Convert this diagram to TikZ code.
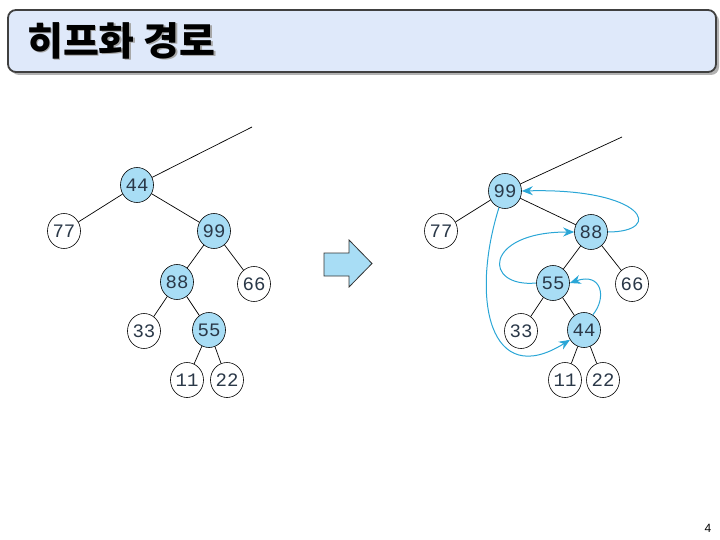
\documentclass[tikz,border=0pt]{standalone}
\usepackage{fontspec}
\setmainfont{Liberation Sans}
\newfontfamily\krfont{Noto Sans CJK KR}
\newfontfamily\monofont{Liberation Mono}
\usetikzlibrary{arrows.meta,shapes.geometric}
\definecolor{nodeblue}{HTML}{A8DDF5}
\definecolor{titlefill}{HTML}{DFE9FA}
\definecolor{pathblue}{HTML}{2AA6D6}
\definecolor{txtgray}{HTML}{2A3848}
\tikzset{
  keynode/.style={ellipse,draw=black,line width=0.6pt,minimum width=33pt,minimum height=35pt,inner sep=0pt,
    font=\monofont\fontsize{19}{19}\selectfont,text=txtgray},
  hot/.style={keynode,fill=nodeblue},
  cold/.style={keynode,fill=white},
  edge/.style={draw=black,line width=0.7pt},
  heappath/.style={draw=pathblue,line width=1pt,-{Stealth[length=11pt,width=9pt]}},
  titlefont/.style={font=\krfont\bfseries\fontsize{39}{39}\selectfont},
}
\begin{document}
\begin{tikzpicture}[x=1pt,y=-1pt]
\useasboundingbox (0,0) rectangle (720,540);
% title
\fill[gray!60,rounded corners=8pt] (11,13) rectangle (719,75);
\draw[draw=black!75,fill=titlefill,line width=1.8pt,rounded corners=8pt] (8,10) rectangle (716,72);
\node[anchor=west,text=gray!70,titlefont,inner sep=0pt] at (28.5,42) {히프화 경로};
\node (title) [anchor=west,text=black,titlefont,inner sep=0pt] at (27,40.5) {히프화 경로};
% left tree
\node[hot]  (L44) at (137,185) {44};
\node[cold] (L77) at (64,231) {77};
\node[hot]  (L99) at (214,231) {99};
\node[hot]  (L88) at (177,282) {88};
\node[cold] (L66) at (254,284) {66};
\node[cold] (L33) at (144,331) {33};
\node[hot]  (L55) at (209,330) {55};
\node[cold] (L11) at (187,380) {11};
\node[cold] (L22) at (227,380) {22};
\coordinate (Ltop) at (252,127);
\draw[edge] (L44) -- (Ltop);
\draw[edge] (L44) -- (L77);
\draw[edge] (L44) -- (L99);
\draw[edge] (L99) -- (L88);
\draw[edge] (L99) -- (L66);
\draw[edge] (L88) -- (L33);
\draw[edge] (L88) -- (L55);
\draw[edge] (L55) -- (L11);
\draw[edge] (L55) -- (L22);
% block arrow
\draw[draw=black!80,fill=nodeblue,line width=0.8pt,line join=miter]
  (324,253) -- (349,253) -- (349,240) -- (372,263.5) -- (349,287) -- (349,276) -- (324,276) -- cycle;
% right tree
\node[hot]  (R99) at (505,191) {99};
\node[cold] (R77) at (441,231) {77};
\node[hot]  (R88) at (591,232) {88};
\node[hot]  (R55) at (553,283) {55};
\node[cold] (R66) at (632,284) {66};
\node[cold] (R33) at (521,331) {33};
\node[hot]  (R44) at (584,330) {44};
\node[cold] (R11) at (565,380) {11};
\node[cold] (R22) at (603,380) {22};
\coordinate (Rtop) at (622,137);
\draw[edge] (R99) -- (Rtop);
\draw[edge] (R99) -- (R77);
\draw[edge] (R99) -- (R88);
\draw[edge] (R88) -- (R55);
\draw[edge] (R88) -- (R66);
\draw[edge] (R55) -- (R33);
\draw[edge] (R55) -- (R44);
\draw[edge] (R44) -- (R11);
\draw[edge] (R44) -- (R22);
% heapify paths
\draw[heappath] (R88.east) .. controls (665,232) and (645,188) .. (R99.east);
\draw[heappath] (R55.west) .. controls (483,288) and (483,232) .. (R88.west);
\draw[heappath] (R44.60) .. controls (607,298) and (602,272) .. (R55.east);
\draw[heappath] (R99.250) .. controls (470,300) and (490,390) .. (R44.215);
% page number
\node (pagenum) [font=\fontsize{12}{12}\selectfont] at (708,528) {4};
\end{tikzpicture}
\end{document}
